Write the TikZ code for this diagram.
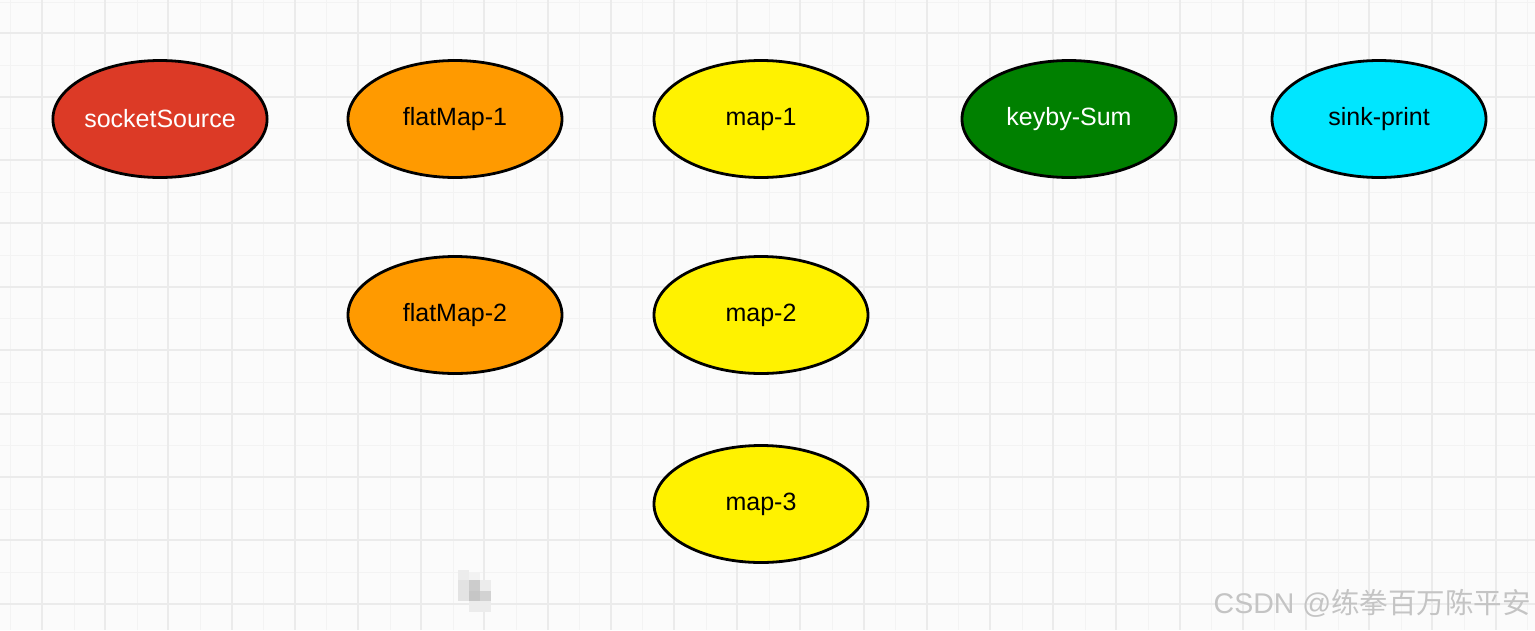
\documentclass[tikz,border=0pt]{standalone}
\usepackage{fontspec}
\setmainfont{Liberation Sans}
\newfontfamily\cjk{Noto Sans CJK SC}
\usetikzlibrary{shapes.geometric}
\definecolor{bgc}{HTML}{FBFBFB}
\definecolor{majorc}{HTML}{EBEBEB}
\definecolor{minorc}{HTML}{F3F3F3}
\definecolor{redc}{HTML}{DC3A26}
\definecolor{orangec}{HTML}{FF9A00}
\definecolor{yellowc}{HTML}{FFF200}
\definecolor{greenc}{HTML}{008000}
\definecolor{cyanc}{HTML}{00E6FF}
\definecolor{wmc}{HTML}{C4C4C4}
\tikzset{
  op/.style={ellipse, draw=black, line width=2.8pt, minimum width=214pt, minimum height=117pt,
    inner sep=0pt, font=\fontsize{25}{30}\selectfont},
}
\begin{document}
\begin{tikzpicture}[x=1pt,y=-1pt]
\useasboundingbox (0,0) rectangle (1535,630);
\fill[bgc] (0,0) rectangle (1535,630);
% minor grid
\foreach \i in {0,...,48} {
  \draw[minorc, line width=1pt] ({round(10.4+31.6*\i)+0.5},0) -- ({round(10.4+31.6*\i)+0.5},630);
}
\foreach \j in {0,...,20} {
  \draw[minorc, line width=1pt] (0,{round(1.5+31.7*\j)+0.5}) -- (1535,{round(1.5+31.7*\j)+0.5});
}
% major grid
\foreach \i in {0,...,23} {
  \draw[majorc, line width=2pt] ({round(42+63.2*\i)},0) -- ({round(42+63.2*\i)},630);
}
\foreach \j in {0,...,9} {
  \draw[majorc, line width=2pt] (0,{round(33.2+63.4*\j)}) -- (1535,{round(33.2+63.4*\j)});
}
% nodes
\node[op, fill=redc, text=white] (src) at (160,119) {socketSource};
\node[op, fill=orangec] (fm1) at (455,119) {flatMap-1};
\node[op, fill=yellowc] (m1) at (761,119) {map-1};
\node[op, fill=greenc, text=white] (ks) at (1069,119) {keyby-Sum};
\node[op, fill=cyanc] (sink) at (1379,119) {sink-print};
\node[op, fill=orangec] (fm2) at (455,315) {flatMap-2};
\node[op, fill=yellowc] (m2) at (761,315) {map-2};
\node[op, fill=yellowc] (m3) at (761,504) {map-3};
% pixelated blur
\fill[gray!15] (458,570) rectangle (469,580);
\fill[gray!10] (469,572) rectangle (480,580);
\fill[gray!22] (458,580) rectangle (469,591);
\fill[gray!40] (469,580) rectangle (480,591);
\fill[gray!15] (480,580) rectangle (491,591);
\fill[gray!22] (458,591) rectangle (469,601);
\fill[gray!45] (469,591) rectangle (480,601);
\fill[gray!35] (480,591) rectangle (491,601);
\fill[gray!15] (469,601) rectangle (480,612);
\fill[gray!15] (480,601) rectangle (491,612);
% watermark
\node[anchor=east, text=wmc, font=\fontsize{28.5}{32}\selectfont, inner sep=0pt] (wm) at (1531,603)
  {CSDN @{\cjk 练拳百万陈平安}};
\end{tikzpicture}
\end{document}
